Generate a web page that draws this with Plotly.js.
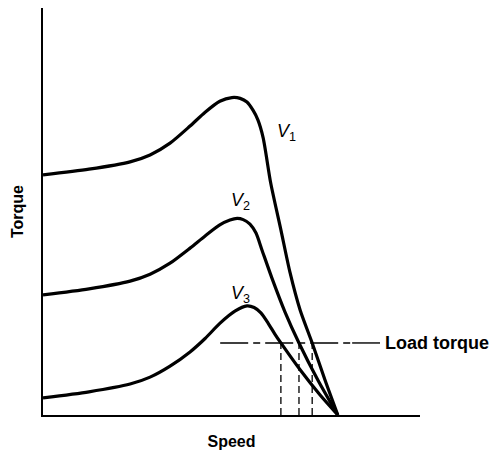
<!DOCTYPE html>
<html>
<head>
<meta charset="utf-8">
<script src="https://cdn.plot.ly/plotly-3.0.1.min.js"></script>
<style>html,body{margin:0;padding:0;background:#fff;}#chart{width:496px;height:456px;}</style>
</head>
<body>
<div id="chart"></div>
<script>
// Speed (0-100) and torque (0-100)
const v1Speed  = [0, 12.2, 23.1, 28.4, 33.7, 39.0, 43.0, 46.9, 50.1, 52.3, 54.1, 55.7, 57.0, 58.4, 60.4, 63.1, 65.5, 68.2, 71.4, 74.8, 78.2];
const v1Torque = [59.0, 60.4, 62.2, 63.9, 66.8, 71.0, 74.4, 77.1, 78.0, 77.8, 76.9, 74.9, 72.5, 68.1, 57.0, 45.5, 35.1, 25.8, 17.7, 8.6, 0];

const v2Speed  = [0, 12.2, 23.1, 28.4, 33.7, 39.0, 43.0, 46.9, 49.6, 51.5, 53.1, 54.9, 56.5, 58.1, 60.7, 64.2, 67.9, 72.9, 78.2];
const v2Torque = [29.5, 31.0, 32.9, 34.6, 37.3, 41.0, 44.0, 46.7, 47.9, 48.3, 48.0, 46.9, 44.7, 40.5, 33.7, 25.3, 17.7, 8.6, 0];

const v3Speed  = [0, 12.2, 23.1, 28.4, 33.7, 39.0, 43.0, 46.9, 50.9, 54.1, 56.0, 57.8, 59.7, 61.5, 63.1, 68.2, 73.5, 78.2];
const v3Torque = [4.2, 5.7, 7.6, 9.3, 12.0, 15.5, 18.8, 22.5, 25.5, 26.8, 26.4, 25.1, 22.6, 19.9, 17.7, 11.1, 4.9, 0];

const loadTorque = 17.7;
const loadStart = 47.0, loadDashEnd = 82.0, loadEnd = 89.4;
const opSpeeds = [63.1, 67.9, 71.4];   // operating points V3, V2, V1

const labels = [
  {text: '<i>V</i><sub>1</sub>', x: 64.5, y: 69.5},
  {text: '<i>V</i><sub>2</sub>', x: 52.3, y: 52.5},
  {text: '<i>V</i><sub>3</sub>', x: 52.3, y: 29.7}
];

const FONT = 'Liberation Sans, Arial, sans-serif';
const curveLine = {color: '#000', width: 3.2, shape: 'spline', smoothing: 0.7};
const traces = [
  {x: v1Speed, y: v1Torque, mode: 'lines', line: curveLine},
  {x: v2Speed, y: v2Torque, mode: 'lines', line: curveLine},
  {x: v3Speed, y: v3Torque, mode: 'lines', line: curveLine},
  {x: [loadStart, loadDashEnd], y: [loadTorque, loadTorque], mode: 'lines',
   line: {color: '#000', width: 1.4, dash: '28px,5px,7px,5px'}},
  {x: [loadDashEnd, loadEnd], y: [loadTorque, loadTorque], mode: 'lines',
   line: {color: '#000', width: 1.4}}
];
opSpeeds.forEach(s => traces.push({x: [s, s], y: [0, loadTorque], mode: 'lines',
  line: {color: '#000', width: 1.3, dash: '7px,4px'}}));

const annotations = labels.map(l => ({x: l.x, y: l.y, xref: 'x', yref: 'y', text: l.text,
  showarrow: false, font: {family: FONT, size: 18, color: '#000'}}));
annotations.push({x: loadEnd, y: loadTorque, xref: 'x', yref: 'y', text: '<b>Load torque</b>',
  xanchor: 'left', xshift: 3, showarrow: false,
  font: {family: FONT, size: 18, color: '#000'}});

const layout = {
  width: 496, height: 456,
  margin: {l: 43, r: 76, t: 8, b: 41},
  paper_bgcolor: '#fff', plot_bgcolor: '#fff',
  showlegend: false,
  xaxis: {range: [0, 100], showline: true, linewidth: 2, linecolor: '#000', showgrid: false,
    zeroline: false, showticklabels: false, ticks: '', fixedrange: true,
    title: {text: '<b>Speed</b>', standoff: 20, font: {family: FONT, size: 16, color: '#000'}}},
  yaxis: {range: [0, 100], showline: true, linewidth: 2, linecolor: '#000', showgrid: false,
    zeroline: false, showticklabels: false, ticks: '', fixedrange: true,
    title: {text: '<b>Torque</b>', standoff: 13, font: {family: FONT, size: 16, color: '#000'}}},
  annotations: annotations
};
Plotly.newPlot('chart', traces, layout, {staticPlot: true});
</script>
</body>
</html>
